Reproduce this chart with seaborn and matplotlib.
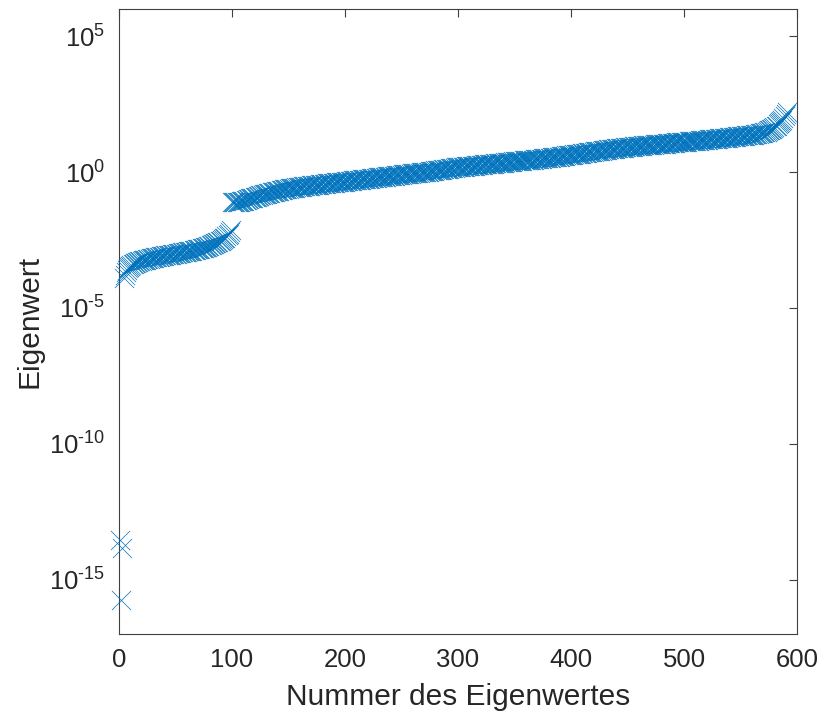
import numpy as np
import pandas as pd
import matplotlib
matplotlib.use("Agg")
import matplotlib.pyplot as plt
import seaborn as sns
from matplotlib.ticker import NullLocator, FuncFormatter

# log10 of eigenvalues (index 1..591)
seg_null = [-13.55, -15.75, -13.85]
seg_low = [
    -3.90, -3.78, -3.68, -3.60, -3.54, -3.49, -3.45, -3.42, -3.39, -3.37,
    -3.35, -3.33, -3.31, -3.30, -3.28, -3.27, -3.26, -3.25, -3.24, -3.23,
    -3.22, -3.21, -3.20, -3.19, -3.18, -3.17, -3.16, -3.15, -3.14, -3.14,
    -3.13, -3.12, -3.11, -3.10, -3.10, -3.09, -3.08, -3.07, -3.07, -3.06,
    -3.05, -3.04, -3.04, -3.03, -3.02, -3.01, -3.00, -3.00, -2.99, -2.98,
    -2.97, -2.97, -2.96, -2.95, -2.94, -2.94, -2.93, -2.92, -2.91, -2.90,
    -2.90, -2.89, -2.88, -2.87, -2.86, -2.85, -2.84, -2.83, -2.82, -2.81,
    -2.80, -2.79, -2.77, -2.76, -2.74, -2.73, -2.71, -2.70, -2.68, -2.66,
    -2.64, -2.62, -2.60, -2.58, -2.56, -2.54, -2.52, -2.50, -2.47, -2.44,
    -2.41, -2.37, -2.33, -2.28, -2.22, -2.14,
]
seg_high = [
    -1.12, -1.12, -1.11, -1.11, -1.11, -1.10, -1.10, -1.09, -1.08, -1.07,
    -1.06, -1.05, -1.04, -1.02, -1.00, -0.98, -0.97, -0.96, -0.95, -0.94,
    -0.92, -0.91, -0.90, -0.89, -0.87, -0.85, -0.84, -0.83, -0.82, -0.81,
    -0.80, -0.79, -0.78, -0.77, -0.76, -0.75, -0.74, -0.73, -0.72, -0.71,
    -0.70, -0.69, -0.68, -0.67, -0.66, -0.65, -0.64, -0.63, -0.63, -0.62,
    -0.61, -0.60, -0.60, -0.59, -0.58, -0.58, -0.57, -0.56, -0.56, -0.55,
    -0.55, -0.54, -0.54, -0.53, -0.52, -0.52, -0.51, -0.51, -0.50, -0.50,
    -0.49, -0.49, -0.48, -0.48, -0.47, -0.47, -0.46, -0.46, -0.45, -0.45,
    -0.44, -0.44, -0.43, -0.43, -0.42, -0.42, -0.41, -0.41, -0.40, -0.40,
    -0.39, -0.39, -0.38, -0.38, -0.37, -0.37, -0.36, -0.36, -0.35, -0.35,
    -0.35, -0.34, -0.34, -0.33, -0.33, -0.32, -0.32, -0.31, -0.31, -0.30,
    -0.30, -0.29, -0.29, -0.28, -0.28, -0.27, -0.27, -0.26, -0.26, -0.25,
    -0.25, -0.24, -0.24, -0.23, -0.23, -0.22, -0.22, -0.21, -0.21, -0.20,
    -0.20, -0.19, -0.19, -0.18, -0.18, -0.17, -0.17, -0.16, -0.16, -0.15,
    -0.15, -0.14, -0.14, -0.13, -0.13, -0.12, -0.12, -0.11, -0.11, -0.10,
    -0.10, -0.09, -0.09, -0.08, -0.08, -0.07, -0.07, -0.06, -0.06, -0.05,
    -0.05, -0.04, -0.04, -0.03, -0.03, -0.02, -0.02, -0.01, -0.01, 0.00,
    0.00, 0.01, 0.01, 0.02, 0.02, 0.03, 0.04, 0.04, 0.05, 0.05,
    0.06, 0.06, 0.07, 0.08, 0.08, 0.09, 0.09, 0.10, 0.11, 0.11,
    0.12, 0.12, 0.13, 0.14, 0.14, 0.15, 0.15, 0.16, 0.17, 0.17,
    0.18, 0.18, 0.19, 0.19, 0.20, 0.20, 0.20, 0.21, 0.21, 0.22,
    0.22, 0.23, 0.23, 0.23, 0.24, 0.24, 0.25, 0.25, 0.26, 0.26,
    0.26, 0.27, 0.27, 0.28, 0.28, 0.28, 0.29, 0.29, 0.30, 0.30,
    0.31, 0.31, 0.31, 0.32, 0.32, 0.33, 0.33, 0.34, 0.34, 0.34,
    0.35, 0.35, 0.36, 0.36, 0.37, 0.37, 0.37, 0.38, 0.38, 0.39,
    0.39, 0.40, 0.40, 0.40, 0.41, 0.41, 0.42, 0.42, 0.43, 0.43,
    0.43, 0.44, 0.44, 0.45, 0.45, 0.46, 0.46, 0.46, 0.47, 0.47,
    0.48, 0.48, 0.49, 0.49, 0.49, 0.50, 0.50, 0.51, 0.51, 0.52,
    0.52, 0.53, 0.53, 0.54, 0.54, 0.55, 0.55, 0.56, 0.56, 0.57,
    0.57, 0.58, 0.58, 0.59, 0.60, 0.60, 0.61, 0.61, 0.62, 0.62,
    0.63, 0.64, 0.64, 0.65, 0.65, 0.66, 0.67, 0.67, 0.68, 0.68,
    0.69, 0.70, 0.70, 0.71, 0.71, 0.72, 0.73, 0.73, 0.74, 0.74,
    0.75, 0.76, 0.76, 0.77, 0.77, 0.78, 0.79, 0.79, 0.80, 0.80,
    0.81, 0.82, 0.82, 0.83, 0.83, 0.84, 0.85, 0.85, 0.86, 0.86,
    0.87, 0.87, 0.88, 0.88, 0.89, 0.89, 0.90, 0.90, 0.91, 0.91,
    0.92, 0.92, 0.93, 0.93, 0.94, 0.94, 0.95, 0.95, 0.95, 0.96,
    0.96, 0.97, 0.97, 0.97, 0.98, 0.98, 0.99, 0.99, 0.99, 1.00,
    1.00, 1.00, 1.01, 1.01, 1.02, 1.02, 1.02, 1.03, 1.03, 1.03,
    1.04, 1.04, 1.05, 1.05, 1.05, 1.06, 1.06, 1.06, 1.07, 1.07,
    1.08, 1.08, 1.08, 1.09, 1.09, 1.09, 1.10, 1.10, 1.11, 1.11,
    1.11, 1.12, 1.12, 1.12, 1.13, 1.13, 1.14, 1.14, 1.14, 1.15,
    1.15, 1.15, 1.16, 1.16, 1.17, 1.17, 1.17, 1.18, 1.18, 1.19,
    1.19, 1.19, 1.20, 1.20, 1.21, 1.21, 1.21, 1.22, 1.22, 1.23,
    1.23, 1.24, 1.24, 1.24, 1.25, 1.25, 1.26, 1.26, 1.27, 1.27,
    1.28, 1.28, 1.28, 1.29, 1.29, 1.30, 1.30, 1.31, 1.31, 1.32,
    1.32, 1.33, 1.33, 1.34, 1.34, 1.35, 1.35, 1.36, 1.36, 1.37,
    1.37, 1.38, 1.38, 1.39, 1.40, 1.40, 1.41, 1.42, 1.43, 1.44,
    1.45, 1.46, 1.48, 1.49, 1.51, 1.53, 1.55, 1.57, 1.59, 1.62,
    1.65, 1.68, 1.71, 1.75, 1.79, 1.83, 1.88, 1.93, 1.99, 2.05,
    2.12, 2.20,
]

x_label = "Nummer des Eigenwertes"
y_label = "Eigenwert"
x_ticks = [0, 100, 200, 300, 400, 500, 600]
y_ticks = [1e-15, 1e-10, 1e-5, 1e0, 1e5]

log_vals = np.array(seg_null + seg_low + seg_high)
df = pd.DataFrame({"idx": np.arange(1, len(log_vals) + 1),
                   "val": 10.0 ** log_vals})

sns.set_theme(style="white")
plt.rcParams["font.family"] = ["Liberation Sans", "DejaVu Sans"]
plt.rcParams["axes.unicode_minus"] = False
plt.rcParams["mathtext.fontset"] = "custom"
plt.rcParams["mathtext.rm"] = "Liberation Sans"
plt.rcParams["mathtext.it"] = "Liberation Sans"
plt.rcParams["mathtext.bf"] = "Liberation Sans"


def sci_fmt(v, pos):
    e = int(round(np.log10(v)))
    if e < 0:
        return r"$\mathdefault{10^{\text{-}%d}}$" % (-e)
    return r"$\mathdefault{10^{%d}}$" % e


fig = plt.figure(figsize=(8.22, 7.14), dpi=100)
ax = fig.add_axes([0.1448, 0.1120, 0.8248, 0.8754])

sns.scatterplot(data=df, x="idx", y="val", marker="x", s=190,
                color="#0072BD", linewidth=0.5, ax=ax, legend=False,
                clip_on=False, zorder=3)

ax.set_yscale("log")
ax.set_xlim(0, 600)
ax.set_ylim(1e-17, 1e6)
ax.set_xticks(x_ticks)
ax.set_yticks(y_ticks)
ax.yaxis.set_minor_locator(NullLocator())
ax.yaxis.set_major_formatter(FuncFormatter(sci_fmt))
ax.set_xlabel(x_label, fontsize=21.5, color="#262626", labelpad=8)
ax.set_ylabel(y_label, fontsize=21.5, color="#262626", labelpad=4)
ax.tick_params(axis="both", which="major", direction="in", length=6,
               width=0.8, color="#404040", labelsize=18.5, labelcolor="#262626",
               top=True, right=True, pad=10)
for sp in ax.spines.values():
    sp.set_visible(True)
    sp.set_color("#404040")
    sp.set_linewidth(0.8)

fig.savefig("out.png", dpi=100)
